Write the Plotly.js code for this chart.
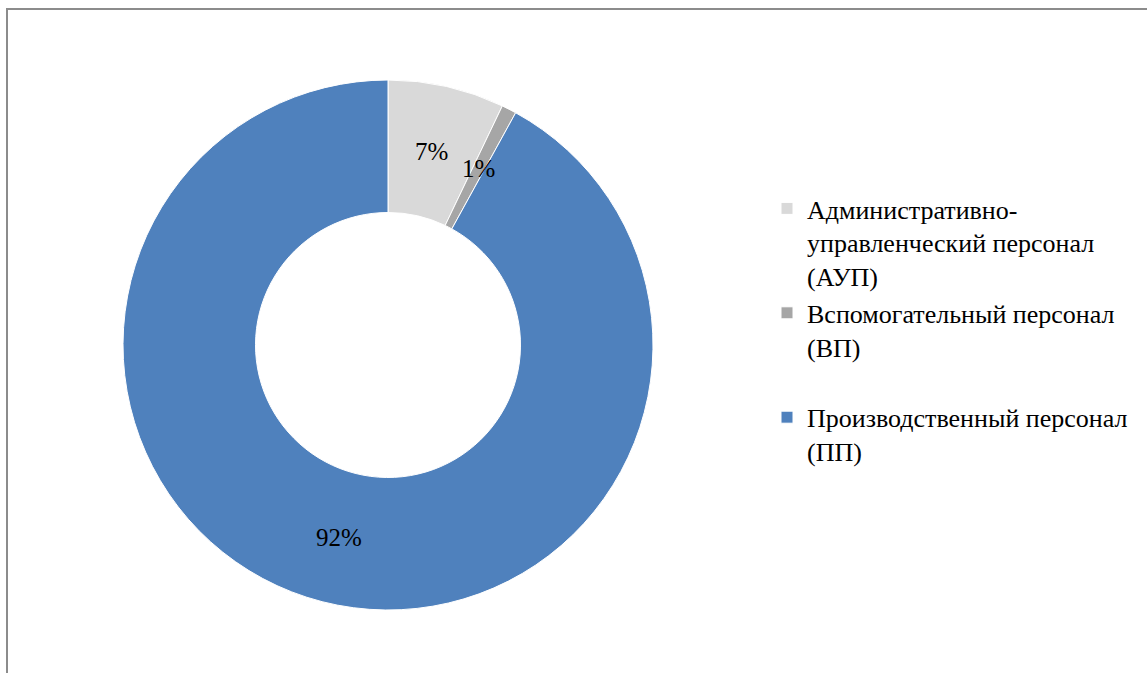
<!DOCTYPE html>
<html>
<head>
<meta charset="utf-8">
<script src="https://cdn.plot.ly/plotly-3.0.1.min.js"></script>
<style>
  html, body { margin: 0; padding: 0; background: #fff; overflow: hidden; }
  #frame { position: absolute; left: 6px; top: 8px; width: 1200px; height: 700px; border: 2px solid #8c8c8c; box-sizing: border-box; }
  #chart { position: absolute; left: 0; top: 0; width: 1147px; height: 673px; }
</style>
</head>
<body>
<div id="frame"></div>
<div id="chart"></div>
<script>
const categories = [
  "Административно-<br>управленческий персонал<br>(АУП)",
  "Вспомогательный персонал<br>(ВП)<br>",
  "Производственный персонал<br>(ПП)"
];
const shares = [7.1, 0.9, 92.0];
const sliceColors = ["#d9d9d9", "#a6a6a6", "#4f81bd"];

const W = 1147, H = 673;
const cx = 388, cy = 345, R = 265, HOLE = 0.5;
const SERIF = "Liberation Serif";

const trace = {
  type: "pie",
  labels: categories,
  values: shares,
  sort: false,
  direction: "clockwise",
  rotation: 0,
  hole: HOLE,
  marker: { colors: sliceColors, line: { color: "#ffffff", width: 1 } },
  textinfo: "none",
  domain: {
    x: [(cx - R) / W, (cx + R) / W],
    y: [(H - cy - R) / H, (H - cy + R) / H]
  },
  hoverinfo: "label+percent"
};

// percentage labels at the middle of each ring segment, computed from the data
const total = shares.reduce((a, b) => a + b, 0);
const rMid = R * (1 + HOLE) / 2;
let cum = 0;
const annotations = shares.map(v => {
  const mid = (cum + v / 2) / total * 2 * Math.PI;
  cum += v;
  return {
    xref: "paper", yref: "paper",
    x: (cx + rMid * Math.sin(mid)) / W,
    y: 1 - (cy - rMid * Math.cos(mid)) / H,
    text: Math.round(v / total * 100) + "%",
    showarrow: false,
    xanchor: "center", yanchor: "middle",
    font: { family: SERIF, size: 25, color: "#000" }
  };
});

const layout = {
  width: W, height: H,
  margin: { l: 0, r: 0, t: 0, b: 0 },
  font: { family: SERIF, size: 26, color: "#000" },
  paper_bgcolor: "rgba(0,0,0,0)",
  plot_bgcolor: "rgba(0,0,0,0)",
  showlegend: true,
  annotations: annotations,
  legend: {
    x: 767 / W, xanchor: "left",
    y: 1 - 185 / H, yanchor: "top",
    valign: "top",
    itemwidth: 30,
    font: { family: SERIF, size: 26, color: "#000" },
    bgcolor: "rgba(0,0,0,0)"
  }
};

Plotly.newPlot("chart", [trace], layout, { displayModeBar: false, staticPlot: true });
</script>
</body>
</html>
